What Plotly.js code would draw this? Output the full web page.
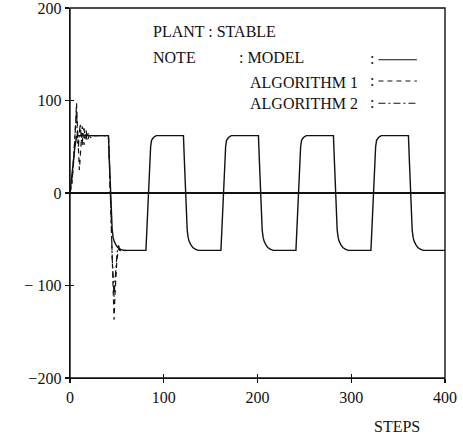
<!DOCTYPE html>
<html>
<head>
<meta charset="utf-8">
<script src="https://cdn.plot.ly/plotly-3.0.1.min.js"></script>
<style>html,body{margin:0;padding:0;background:#fff;}#chart{width:463px;height:438px;}</style>
</head>
<body>
<div id="chart"></div>
<script>
// ---- data ----
var modelX = [0,1,2,3,4,5,6,7,8,
  41,42,43,44,45,46,47,49,51,54,57,
  81,82,83,84,85,86,87,89,92,
  121,122,123,124,125,126,127,129,131,134,137,
  161,162,163,164,165,166,167,169,172,
  201,202,203,204,205,206,207,209,211,214,217,
  241,242,243,244,245,246,247,249,252,
  281,282,283,284,285,286,287,289,291,294,297,
  321,322,323,324,325,326,327,329,332,
  361,362,363,364,365,366,367,369,371,374,377,400];
var modelY = [0,8,18,28,38,48,56,61,62,
  62,35,5,-22,-40,-48,-52,-56,-59,-61,-62,
  -62,-40,-15,12,36,50,57,60,62,
  62,35,5,-22,-40,-48,-52,-56,-59,-61,-62,
  -62,-40,-15,12,36,50,57,60,62,
  62,35,5,-22,-40,-48,-52,-56,-59,-61,-62,
  -62,-40,-15,12,36,50,57,60,62,
  62,35,5,-22,-40,-48,-52,-56,-59,-61,-62,
  -62,-40,-15,12,36,50,57,60,62,
  62,35,5,-22,-40,-48,-52,-56,-59,-61,-62,-62];

var alg1X = [0,2,4,6,7,8,9,10,11,12,13,14,15,16,17,18,19,20,22,24,41,
  42,43,44,45,46,47,48,49,50,51,52,53,55,60];
var alg1Y = [0,10,35,75,97,70,40,25,40,65,72,60,52,62,68,63,58,61,64,62,62,
  35,0,-40,-85,-120,-137,-110,-85,-72,-66,-60,-62,-63,-62];

var alg2X = [0,2,4,6,7,8,9,10,11,12,13,14,15,16,17,18,20,22,25,41,
  42,43,44,45,46,47,48,49,50,51,52,53,55,60];
var alg2Y = [0,12,40,80,90,55,50,66,75,58,52,66,70,60,57,63,64,60,62,62,
  35,3,-30,-70,-105,-112,-95,-78,-68,-58,-57,-62,-62,-62];

var xTicks = [0,100,200,300,400];
var yTicks = [-200,-100,0,100,200];
var yTickText = ['\u2212200','\u2212 100','0','100','200'];

var legendRows = ['MODEL','ALGORITHM 1','ALGORITHM 2'];
var plantText = 'PLANT : STABLE';
var noteText = 'NOTE';
var xTitle = 'STEPS';

// ---- chart ----
var serif = 'Liberation Serif, Times New Roman, serif';
var ink = '#111';

var traces = [
  {x: modelX, y: modelY, mode: 'lines', line: {color: ink, width: 1.4}, hoverinfo: 'skip'},
  {x: alg1X, y: alg1Y, mode: 'lines', line: {color: ink, width: 1.2, dash: '5px,4px'}, hoverinfo: 'skip'},
  {x: alg2X, y: alg2Y, mode: 'lines', line: {color: ink, width: 1.2, dash: '7px,3px,2px,3px'}, hoverinfo: 'skip'},
  {x: [0], y: [0], xaxis: 'x2', yaxis: 'y2', mode: 'markers', marker: {opacity: 0}, hoverinfo: 'skip'}
];

var font = {family: serif, size: 16, color: ink};
var rowY = [144, 121, 97];
var annotations = [
  {x: 86, y: 175, xref: 'x', yref: 'y', text: plantText, showarrow: false, xanchor: 'left', yanchor: 'middle', font: font},
  {x: 86, y: 146, xref: 'x', yref: 'y', text: noteText, showarrow: false, xanchor: 'left', yanchor: 'middle', font: font},
  {x: 178, y: 146, xref: 'x', yref: 'y', text: ': ' + legendRows[0], showarrow: false, xanchor: 'left', yanchor: 'middle', font: font},
  {x: 190, y: 120, xref: 'x', yref: 'y', text: legendRows[1], showarrow: false, xanchor: 'left', yanchor: 'middle', font: font},
  {x: 190, y: 97, xref: 'x', yref: 'y', text: legendRows[2], showarrow: false, xanchor: 'left', yanchor: 'middle', font: font},
  {x: 0.872, y: -0.132, xref: 'paper', yref: 'paper', text: xTitle, showarrow: false, xanchor: 'center', yanchor: 'middle', font: font}
];
var dashes = ['solid', '5px,4px', '7px,3px,2px,3px'];
var shapes = [
  {type: 'rect', xref: 'paper', yref: 'paper', x0: 0, x1: 1, y0: 0, y1: 1, line: {color: ink, width: 1.4}, fillcolor: 'rgba(0,0,0,0)'}
];
for (var i = 0; i < 3; i++) {
  annotations.push({x: 322, y: rowY[i] + 1, xref: 'x', yref: 'y', text: ':', showarrow: false, xanchor: 'center', yanchor: 'middle', font: font});
  shapes.push({type: 'line', xref: 'x', yref: 'y', x0: 329, x1: 370, y0: rowY[i], y1: rowY[i], line: {color: ink, width: 1.1, dash: dashes[i]}});
}

var axisCommon = {showgrid: false, linecolor: ink, linewidth: 1.4, tickcolor: ink, ticklen: 4, tickwidth: 1.2};

var layout = {
  width: 463, height: 438,
  margin: {l: 70, r: 18, t: 8, b: 60},
  paper_bgcolor: '#fff', plot_bgcolor: '#fff',
  showlegend: false,
  font: font,
  xaxis: Object.assign({}, axisCommon, {range: [0, 400], tickvals: xTicks, ticks: 'outside', showline: true, zeroline: false, tickfont: font, ticklabeloverflow: 'allow'}),
  yaxis: Object.assign({}, axisCommon, {range: [-200, 200], tickvals: yTicks, ticktext: yTickText, ticks: 'outside', showline: true, zeroline: true, zerolinecolor: ink, zerolinewidth: 1.1, tickfont: font, ticklabeloverflow: 'allow'}),
  xaxis2: Object.assign({}, axisCommon, {overlaying: 'x', matches: 'x', anchor: 'y2', side: 'bottom', range: [0, 400], tickvals: xTicks, ticks: 'inside', showticklabels: false, showline: false, zeroline: false}),
  yaxis2: Object.assign({}, axisCommon, {overlaying: 'y', matches: 'y', anchor: 'x2', side: 'left', range: [-200, 200], tickvals: yTicks, ticks: 'inside', showticklabels: false, showline: false, zeroline: false}),
  annotations: annotations,
  shapes: shapes
};

Plotly.newPlot('chart', traces, layout, {staticPlot: true, displayModeBar: false});
</script>
</body>
</html>
